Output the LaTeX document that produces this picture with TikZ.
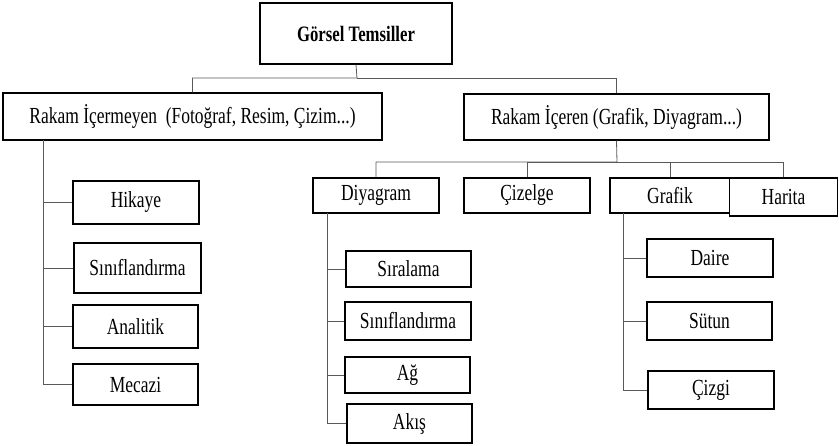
\documentclass[tikz,border=0pt]{standalone}
\usepackage{fontspec}
\setmainfont{Liberation Serif}[FakeStretch=0.76]
\tikzset{
  kutu/.style={draw, fill=white, line width=1.2pt, inner sep=0pt, font=\fontsize{23}{26}\selectfont},
  hat/.style={draw=black!65, line width=0.8pt}
}

\begin{document}
\begin{tikzpicture}[x=1pt, y=-1pt]
\useasboundingbox (0,0) rectangle (839,446);

\node[kutu, minimum width=192pt, minimum height=61pt, font=\fontsize{22}{26}\selectfont\bfseries] (gt) at (356,33.5) {Görsel Temsiller};
\node[kutu, minimum width=379pt, minimum height=47pt] (r1) at (192.5,116.5) {Rakam İçermeyen~ (Fotoğraf, Resim, Çizim...)};
\node[kutu, minimum width=305pt, minimum height=46pt] (r2) at (616.5,117) {Rakam İçeren (Grafik, Diyagram...)};

\node[kutu, minimum width=126pt, minimum height=43pt] (h1) at (136,202.5) {Hikaye};
\node[kutu, minimum width=127pt, minimum height=50pt] (h2) at (137.5,268) {Sınıflandırma};
\node[kutu, minimum width=125pt, minimum height=43pt] (h3) at (135.5,326.5) {Analitik};
\node[kutu, minimum width=125pt, minimum height=41pt] (h4) at (135.5,384.5) {Mecazi};

\node[kutu, minimum width=126pt, minimum height=35pt] (d) at (376,195.5) {Diyagram};
\node[kutu, minimum width=126pt, minimum height=35pt] (c) at (527,195.5) {Çizelge};
\node[kutu, minimum width=120pt, minimum height=35pt] (g) at (670,195.5) {Grafik};
\node[kutu, minimum width=108pt, minimum height=38pt] (hr) at (783.5,197) {Harita};

\node[kutu, minimum width=125pt, minimum height=36pt] (d1) at (408.5,269) {Sıralama};
\node[kutu, minimum width=126pt, minimum height=38pt] (d2) at (408,321) {Sınıflandırma};
\node[kutu, minimum width=125pt, minimum height=36pt] (d3) at (407.5,375) {Ağ};
\node[kutu, minimum width=125pt, minimum height=39pt] (d4) at (409.5,423.5) {Akış};

\node[kutu, minimum width=126pt, minimum height=38pt] (g1) at (710,258) {Daire};
\node[kutu, minimum width=125pt, minimum height=38pt] (g2) at (709.5,321) {Sütun};
\node[kutu, minimum width=126pt, minimum height=38pt] (g3) at (711,390) {Çizgi};

\coordinate (b1) at (357,78);
\coordinate (b2) at (617,162);
\coordinate (s1) at (43,140);
\coordinate (s2) at (327,213);
\coordinate (s3) at (623,213);

\draw[hat] (gt.south) -- (b1) -| (r1.north);
\draw[hat] (b1) -| (r2.north);
\draw[hat] (r2.south) -- (b2) -| (d.north);
\draw[hat] (b2) -| (c.north);
\draw[hat] (b2) -| (g.north);
\draw[hat] (b2) -| (hr.north);
\draw[hat] (s1) |- (h1.west);
\draw[hat] (s1) |- (h2.west);
\draw[hat] (s1) |- (h3.west);
\draw[hat] (s1) |- (h4.west);
\draw[hat] (s2) |- (d1.west);
\draw[hat] (s2) |- (d2.west);
\draw[hat] (s2) |- (d3.west);
\draw[hat] (s2) |- (d4.west);
\draw[hat] (s3) |- (g1.west);
\draw[hat] (s3) |- (g2.west);
\draw[hat] (s3) |- (g3.west);
\end{tikzpicture}
\end{document}
